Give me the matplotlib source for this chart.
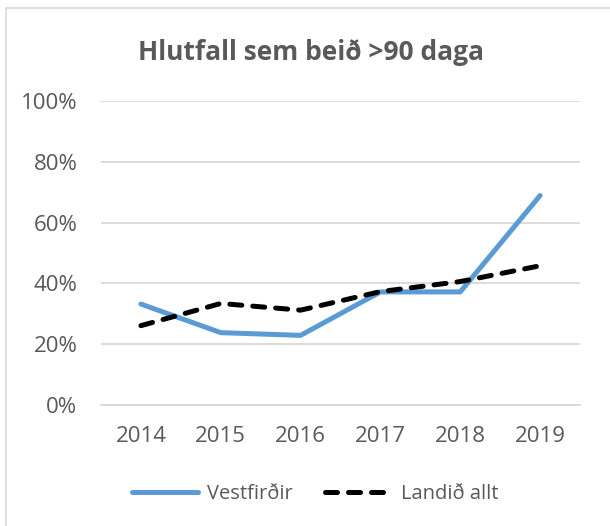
import matplotlib.pyplot as plt
from matplotlib.lines import Line2D

years = ["2014", "2015", "2016", "2017", "2018", "2019"]
vestfirdir = [33.2, 23.8, 22.9, 37.2, 37.2, 68.9]
landid_allt = [26.1, 33.4, 31.2, 37.3, 40.6, 45.8]

plt.rcParams['font.family'] = ['Open Sans', 'DejaVu Sans']

W, H = 610, 526
fig = plt.figure(figsize=(W / 100, H / 100), dpi=100)
ax = fig.add_axes([101 / W, 1 - 405 / H, 479 / W, 304 / H])

x = range(len(years))
ax.plot(x, vestfirdir, color="#5b9bd5", lw=3.6, solid_capstyle="round", label="Vestfirðir")
ax.plot(x, landid_allt, color="black", lw=3.6, ls=(0, (2.4, 2.2)), dash_capstyle="round",
        label="Landið allt")

ax.set_xlim(-0.5, 5.5)
ax.set_ylim(0, 100)
ax.set_xticks(list(x))
ax.set_xticklabels(years)
ax.set_yticks(range(0, 101, 20))
ax.set_yticklabels([f"{v}%" for v in range(0, 101, 20)])
ax.grid(axis="y", color="#d9d9d9", lw=1.3)
ax.set_axisbelow(True)
for s in ["top", "right", "left"]:
    ax.spines[s].set_visible(False)
ax.spines["bottom"].set_color("#d9d9d9")
ax.spines["bottom"].set_linewidth(1.3)
ax.tick_params(length=0, labelsize=16, colors="#595959")
ax.tick_params(axis="x", pad=15)
ax.tick_params(axis="y", pad=17)

fig.text(311 / W, 1 - 53 / H, "Hlutfall sem beið >90 daga", ha="center", va="center",
         fontsize=19, fontweight="bold", color="#595959")

fig.legend(loc="center", bbox_to_anchor=(315 / W, 1 - 494 / H), ncol=2, frameon=False,
           fontsize=14.5, labelcolor="#595959", handlelength=3.3, columnspacing=1.6,
           handletextpad=0.45)

# chart frame (only top and left edges visible)
fig.add_artist(Line2D([6 / W, 6 / W, 1], [0, 1 - 8 / H, 1 - 8 / H], transform=fig.transFigure,
                      color="#d9d9d9", lw=1.2))

fig.savefig("out.png", dpi=100)
